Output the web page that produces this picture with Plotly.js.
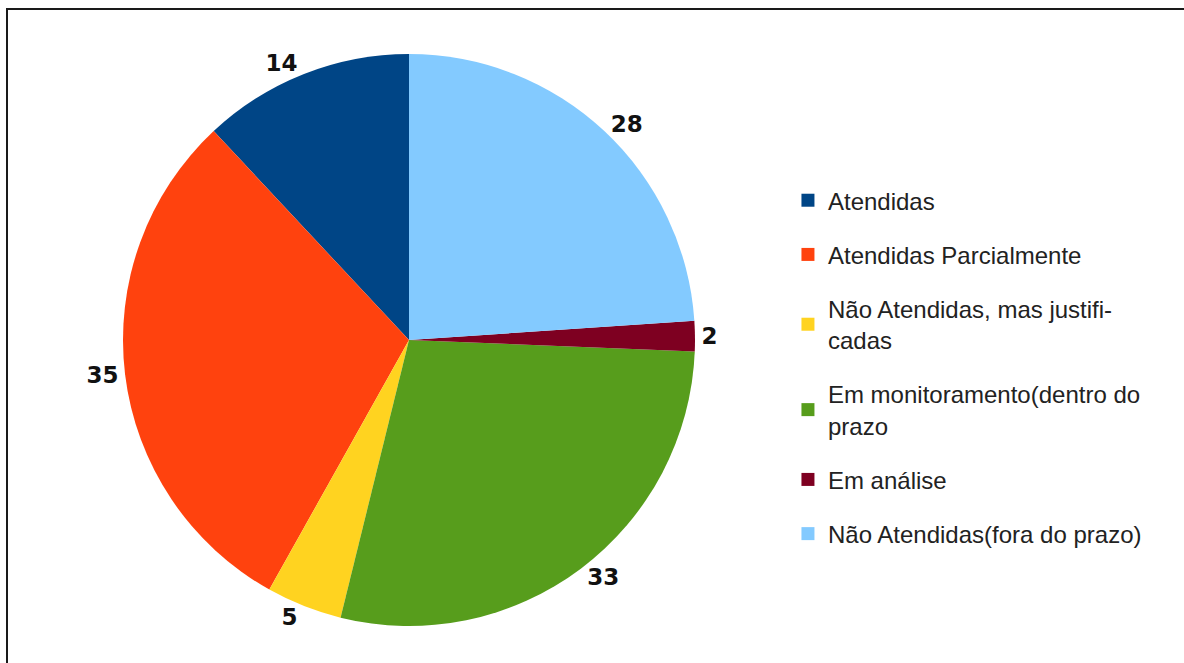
<!DOCTYPE html>
<html>
<head>
<meta charset="utf-8">
<script src="https://cdn.plot.ly/plotly-3.0.1.min.js"></script>
<style>
  html, body { margin: 0; padding: 0; background: #fff; }
  #wrap { position: relative; width: 1184px; height: 663px; overflow: hidden; }
  #chart { width: 1184px; height: 663px; }
  #frame { position: absolute; left: 6px; top: 8px; width: 1190px; height: 700px;
           border-top: 2px solid #1a1a1a; border-left: 2px solid #1a1a1a; pointer-events: none; }
</style>
</head>
<body>
<div id="wrap">
  <div id="chart"></div>
  <div id="frame"></div>
</div>
<script>
const categories = [
  "Atendidas",
  "Atendidas Parcialmente",
  "Não Atendidas, mas justifi-<br>cadas",
  "Em monitoramento(dentro do<br>prazo",
  "Em análise",
  "Não Atendidas(fora do prazo)"
];
const values = [14, 35, 5, 33, 2, 28];
const colors = ["#004586", "#ff420e", "#ffd320", "#579d1c", "#7e0021", "#83caff"];

// first slice starts at 12 o'clock and runs counterclockwise
const total = values.reduce((a, b) => a + b, 0);
const firstShare = values[0] / total * 360;

const pie = {
  type: "pie",
  labels: categories,
  values: values,
  sort: false,
  direction: "counterclockwise",
  rotation: -firstShare,
  marker: { colors: colors, line: { width: 0 } },
  textposition: "outside",
  texttemplate: "<b>%{value}</b>",
  textfont: { family: "DejaVu Sans, Liberation Sans, sans-serif", size: 23, color: "#111" },
  domain: { x: [123 / 1184, 695 / 1184], y: [0, 1] },
  showlegend: false,
  hoverinfo: "label+value"
};

// Legend entries (one per category) so item spacing can match the reference
const legendTraces = categories.map((c, i) => ({
  type: "scatter",
  mode: "markers",
  x: [null], y: [null],
  name: c,
  legendgroup: "g" + i,
  marker: { symbol: "square", size: 13, color: colors[i], line: { width: 0 } },
  hoverinfo: "skip"
}));

const layout = {
  width: 1184,
  height: 663,
  margin: { l: 0, r: 0, t: 54, b: 37 },
  paper_bgcolor: "#fff",
  plot_bgcolor: "#fff",
  xaxis: { visible: false },
  yaxis: { visible: false },
  showlegend: true,
  legend: {
    x: 0.6655, xanchor: "left",
    y: 0.783, yanchor: "top",
    font: { family: "Liberation Sans, Arial, sans-serif", size: 24, color: "#222" },
    tracegroupgap: 20,
    itemclick: false, itemdoubleclick: false
  }
};

Plotly.newPlot("chart", [pie].concat(legendTraces), layout, { displayModeBar: false, staticPlot: true });
</script>
</body>
</html>
